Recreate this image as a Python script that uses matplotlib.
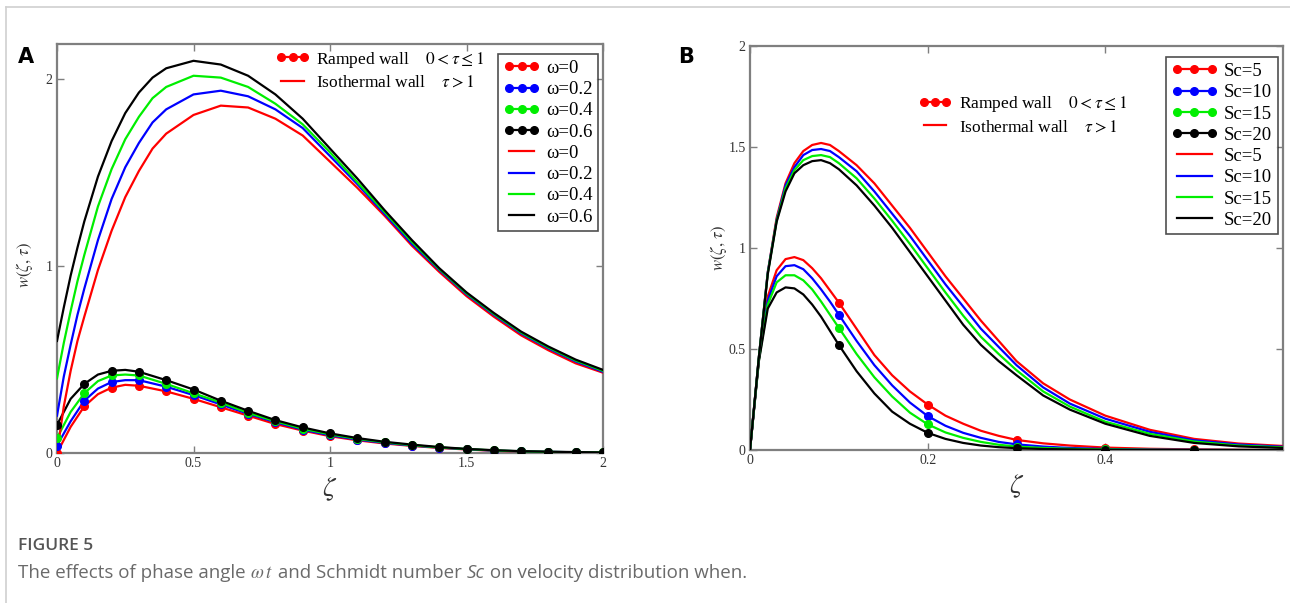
import numpy as np
import matplotlib
matplotlib.use("Agg")
import matplotlib.pyplot as plt
from matplotlib.lines import Line2D

plt.rcParams['font.family'] = ['Liberation Serif', 'DejaVu Serif']
plt.rcParams['mathtext.fontset'] = 'stix'

# ---------------- Panel A data (phase angle omega) ----------------
omega_labels = ["ω=0", "ω=0.2", "ω=0.4", "ω=0.6"]
colors = ["#ff0000", "#0000ff", "#00ee00", "#000000"]

zeta_A = [0, 0.025, 0.05, 0.075, 0.1, 0.15, 0.2, 0.25, 0.3, 0.35, 0.4, 0.5, 0.6, 0.7,
          0.8, 0.9, 1.0, 1.1, 1.2, 1.3, 1.4, 1.5, 1.6, 1.7, 1.8, 1.9, 2.0]
iso_A_w0 = [0, 0.25, 0.44, 0.60, 0.73, 0.98, 1.19, 1.37, 1.51, 1.63, 1.71, 1.81, 1.86, 1.85,
            1.79, 1.70, 1.56, 1.42, 1.27, 1.11, 0.97, 0.84, 0.73, 0.63, 0.55, 0.48, 0.43]
iso_A_w02 = [0.20, 0.41, 0.58, 0.74, 0.88, 1.14, 1.36, 1.53, 1.66, 1.77, 1.84, 1.92, 1.94, 1.91,
             1.84, 1.74, 1.59, 1.44, 1.28, 1.12, 0.98, 0.85, 0.74, 0.64, 0.56, 0.49, 0.435]
iso_A_w04 = [0.40, 0.59, 0.76, 0.92, 1.06, 1.32, 1.52, 1.68, 1.80, 1.90, 1.96, 2.02, 2.01, 1.96,
             1.87, 1.76, 1.61, 1.45, 1.29, 1.13, 0.985, 0.855, 0.745, 0.645, 0.565, 0.495, 0.44]
iso_A_w06 = [0.60, 0.78, 0.95, 1.10, 1.24, 1.48, 1.67, 1.82, 1.93, 2.01, 2.06, 2.10, 2.08, 2.02,
             1.92, 1.79, 1.63, 1.47, 1.30, 1.14, 0.99, 0.86, 0.75, 0.65, 0.57, 0.50, 0.445]

zeta_A_ramp = [0, 0.05, 0.1, 0.15, 0.2, 0.25, 0.3, 0.4, 0.5, 0.6, 0.7, 0.8, 0.9, 1.0,
               1.1, 1.2, 1.3, 1.4, 1.5, 1.6, 1.7, 1.8, 1.9, 2.0]
ramp_A_w0 = [0.0, 0.14, 0.25, 0.315, 0.35, 0.365, 0.36, 0.33, 0.29, 0.245, 0.20, 0.155, 0.12, 0.09,
             0.068, 0.051, 0.038, 0.027, 0.019, 0.012, 0.008, 0.005, 0.003, 0.002]
ramp_A_w02 = [0.04, 0.17, 0.28, 0.345, 0.38, 0.39, 0.39, 0.355, 0.31, 0.26, 0.21, 0.165, 0.125, 0.095,
              0.072, 0.054, 0.04, 0.029, 0.02, 0.013, 0.009, 0.006, 0.004, 0.002]
ramp_A_w04 = [0.08, 0.22, 0.32, 0.385, 0.415, 0.42, 0.415, 0.37, 0.32, 0.27, 0.215, 0.17, 0.13, 0.10,
              0.076, 0.057, 0.042, 0.03, 0.021, 0.014, 0.009, 0.006, 0.004, 0.003]
ramp_A_w06 = [0.15, 0.29, 0.37, 0.42, 0.44, 0.445, 0.435, 0.39, 0.34, 0.28, 0.226, 0.176, 0.137, 0.105,
              0.08, 0.06, 0.045, 0.032, 0.022, 0.015, 0.01, 0.007, 0.005, 0.003]

# ---------------- Panel B data (Schmidt number) ----------------
sc_labels = ["Sc=5", "Sc=10", "Sc=15", "Sc=20"]
zeta_B = [0, 0.01, 0.02, 0.03, 0.04, 0.05, 0.06, 0.07, 0.08, 0.09, 0.1, 0.12, 0.14, 0.16,
          0.18, 0.2, 0.22, 0.24, 0.26, 0.28, 0.3, 0.33, 0.36, 0.4, 0.45, 0.5, 0.55, 0.6]
iso_B_sc5 = [0, 0.46, 0.88, 1.15, 1.32, 1.42, 1.48, 1.51, 1.52, 1.51, 1.48, 1.41, 1.32, 1.21,
             1.10, 0.98, 0.86, 0.75, 0.64, 0.54, 0.44, 0.33, 0.25, 0.17, 0.10, 0.055, 0.032, 0.02]
iso_B_sc10 = [0, 0.46, 0.88, 1.14, 1.31, 1.40, 1.46, 1.485, 1.49, 1.48, 1.45, 1.38, 1.28, 1.17,
              1.06, 0.94, 0.82, 0.71, 0.60, 0.51, 0.42, 0.31, 0.23, 0.155, 0.09, 0.048, 0.027, 0.016]
iso_B_sc15 = [0, 0.46, 0.875, 1.135, 1.295, 1.385, 1.435, 1.455, 1.46, 1.45, 1.42, 1.345, 1.245, 1.135,
              1.02, 0.90, 0.78, 0.665, 0.56, 0.475, 0.395, 0.29, 0.215, 0.14, 0.08, 0.042, 0.022, 0.013]
iso_B_sc20 = [0, 0.46, 0.87, 1.13, 1.28, 1.37, 1.41, 1.43, 1.435, 1.42, 1.39, 1.31, 1.21, 1.10,
              0.98, 0.86, 0.74, 0.62, 0.52, 0.44, 0.37, 0.27, 0.20, 0.13, 0.07, 0.035, 0.018, 0.01]
ramp_B_sc5 = [0, 0.45, 0.76, 0.89, 0.945, 0.955, 0.94, 0.90, 0.85, 0.79, 0.73, 0.60, 0.47, 0.37,
              0.29, 0.225, 0.17, 0.13, 0.095, 0.07, 0.05, 0.033, 0.022, 0.012, 0.006, 0.003, 0.001, 0.0]
ramp_B_sc10 = [0, 0.45, 0.74, 0.86, 0.91, 0.915, 0.895, 0.85, 0.795, 0.735, 0.67, 0.54, 0.42, 0.32,
               0.235, 0.168, 0.12, 0.085, 0.06, 0.04, 0.028, 0.017, 0.01, 0.005, 0.002, 0.001, 0.0, 0.0]
ramp_B_sc15 = [0, 0.445, 0.72, 0.83, 0.865, 0.865, 0.84, 0.795, 0.735, 0.67, 0.605, 0.475, 0.36, 0.265,
               0.185, 0.127, 0.087, 0.06, 0.04, 0.026, 0.017, 0.01, 0.006, 0.003, 0.001, 0.0, 0.0, 0.0]
ramp_B_sc20 = [0, 0.44, 0.70, 0.78, 0.805, 0.80, 0.77, 0.72, 0.66, 0.59, 0.52, 0.39, 0.28, 0.19,
               0.13, 0.085, 0.055, 0.035, 0.022, 0.014, 0.009, 0.005, 0.003, 0.001, 0.0, 0.0, 0.0, 0.0]

ramped_label = r"Ramped wall    $0 < \tau \leq 1$"
iso_label = r"Isothermal wall    $\tau > 1$"

# ---------------- Figure ----------------
W, H = 1290, 603
fig = plt.figure(figsize=(W / 100, H / 100), dpi=100)
fig.patch.set_facecolor("white")

def px_axes(l, r, t, b):
    return fig.add_axes([l / W, 1 - b / H, (r - l) / W, (b - t) / H])

axA = px_axes(57, 603, 44, 453)
axB = px_axes(750, 1283, 46, 450)

LW = 1.6
MS = 5.5
frame_col = "#7f7f7f"

def style_axes(ax):
    for s in ax.spines.values():
        s.set_color(frame_col)
        s.set_linewidth(1.6)
    ax.tick_params(direction="in", length=5, width=1, colors=frame_col,
                   top=True, right=True, labelsize=10, labelcolor="#333333", pad=3)

def ramp_markers(z, lo, hi):
    z = np.asarray(z)
    return np.isclose(z * 10, np.round(z * 10)) & (z >= lo - 1e-9) & (z <= hi + 1e-9)

# Panel A
iso_A = [iso_A_w0, iso_A_w02, iso_A_w04, iso_A_w06]
ramp_A = [ramp_A_w0, ramp_A_w02, ramp_A_w04, ramp_A_w06]
zr = np.asarray(zeta_A_ramp)
mA = ramp_markers(zr, 0, 2.0)
for c, y in zip(colors, ramp_A):
    y = np.asarray(y)
    axA.plot(zr, y, color=c, lw=LW, zorder=3)
    axA.plot(zr[mA], y[mA], ls="none", marker="o", ms=MS, color=c, zorder=4)
for c, y in zip(colors, iso_A):
    axA.plot(zeta_A, y, color=c, lw=LW, zorder=3)

axA.set_xlim(0, 2)
axA.set_ylim(0, 2.19)
axA.set_xticks([0, 0.5, 1, 1.5, 2])
axA.set_xticklabels(["0", "0.5", "1", "1.5", "2"])
axA.set_yticks([0, 1, 2])
axA.set_yticklabels(["0", "1", "2"])
style_axes(axA)

# Panel B
iso_B = [iso_B_sc5, iso_B_sc10, iso_B_sc15, iso_B_sc20]
ramp_B = [ramp_B_sc5, ramp_B_sc10, ramp_B_sc15, ramp_B_sc20]
zb = np.asarray(zeta_B)
mB = ramp_markers(zb, 0.1, 0.5)
for c, y in zip(colors, ramp_B):
    y = np.asarray(y)
    axB.plot(zb, y, color=c, lw=LW, zorder=3)
    axB.plot(zb[mB], y[mB], ls="none", marker="o", ms=MS, color=c, zorder=4)
for c, y in zip(colors, iso_B):
    axB.plot(zeta_B, y, color=c, lw=LW, zorder=3)

axB.set_xlim(0, 0.6)
axB.set_ylim(0, 2)
axB.set_xticks([0, 0.2, 0.4])
axB.set_xticklabels(["0", "0.2", "0.4"])
axB.set_yticks([0, 0.5, 1, 1.5, 2])
axB.set_yticklabels(["0", "0.5", "1", "1.5", "2"])
style_axes(axB)

# Legends
def dotted_handle(c):
    return Line2D([], [], color=c, lw=LW, marker="o", ms=MS)

def solid_handle(c):
    return Line2D([], [], color=c, lw=LW)

def add_legends(ax, labels, type_anchor, box_anchor, box_handle_len):
    h1 = [dotted_handle("#ff0000"), solid_handle("#ff0000")]
    leg1 = ax.legend(h1, [ramped_label, iso_label], loc="upper left",
                     bbox_to_anchor=type_anchor, frameon=False, fontsize=12.5,
                     numpoints=3, handlelength=1.9, handletextpad=0.4,
                     labelspacing=0.3, borderaxespad=0, borderpad=0.2)
    ax.add_artist(leg1)
    h2 = [dotted_handle(c) for c in colors] + [solid_handle(c) for c in colors]
    leg2 = ax.legend(h2, labels + labels, loc="upper right", bbox_to_anchor=box_anchor,
                     frameon=True, fancybox=False, fontsize=13.5, numpoints=3,
                     handlelength=box_handle_len, handletextpad=0.35, labelspacing=0.22,
                     borderaxespad=0, borderpad=0.3)
    fr = leg2.get_frame()
    fr.set_edgecolor("#222222")
    fr.set_linewidth(1.2)
    return leg1, leg2

add_legends(axA, omega_labels, (0.395, 0.995), (0.991, 0.975), 1.9)
add_legends(axB, sc_labels, (0.31, 0.89), (0.99, 0.972), 2.45)

# Axis labels
axA.set_ylabel(r"$w(\zeta,\,\tau)$", fontsize=12, color="#333333")
axB.set_ylabel(r"$w(\zeta,\,\tau)$", fontsize=12, color="#333333")
axA.yaxis.set_label_coords(-0.040, 0.46)
axB.yaxis.set_label_coords(-0.040, 0.5)
for ax in (axA, axB):
    ax.set_xlabel(r"$\zeta$", fontsize=20, color="#333333", labelpad=4)

# Panel letters
fig.text(18 / W, 1 - 57 / H, "A", fontsize=15, fontweight="bold", family="DejaVu Sans",
         ha="left", va="center", color="black")
fig.text(678 / W, 1 - 57 / H, "B", fontsize=15, fontweight="bold", family="DejaVu Sans",
         ha="left", va="center", color="black")

# Caption
fig.text(18 / W, 1 - 546 / H, "FIGURE 5", fontsize=12.5, family="Open Sans",
         fontweight="semibold", color="#555555", ha="left", va="center")

cap_parts = [
    ("The effects of phase angle ", dict(family="Open Sans")),
    (r"$\omega\,t$", dict(family="Open Sans")),
    (" and Schmidt number ", dict(family="Open Sans")),
    ("Sc", dict(family="Open Sans", style="italic")),
    (" on velocity distribution when.", dict(family="Open Sans")),
]
renderer = fig.canvas.get_renderer()
x_px = 18.0
for txt, kw in cap_parts:
    t = fig.text(x_px / W, 1 - 573 / H, txt, fontsize=13.5, color="#6a6a6a",
                 ha="left", va="center", **kw)
    bb = t.get_window_extent(renderer=renderer)
    x_px += bb.width

# Light page border (top and left)
fig.add_artist(Line2D([6 / W, 1], [1 - 7 / H, 1 - 7 / H], color="#d0d0d0", lw=1.2))
fig.add_artist(Line2D([6 / W, 6 / W], [0, 1 - 7 / H], color="#d0d0d0", lw=1.2))

fig.savefig("out.png", dpi=100)
